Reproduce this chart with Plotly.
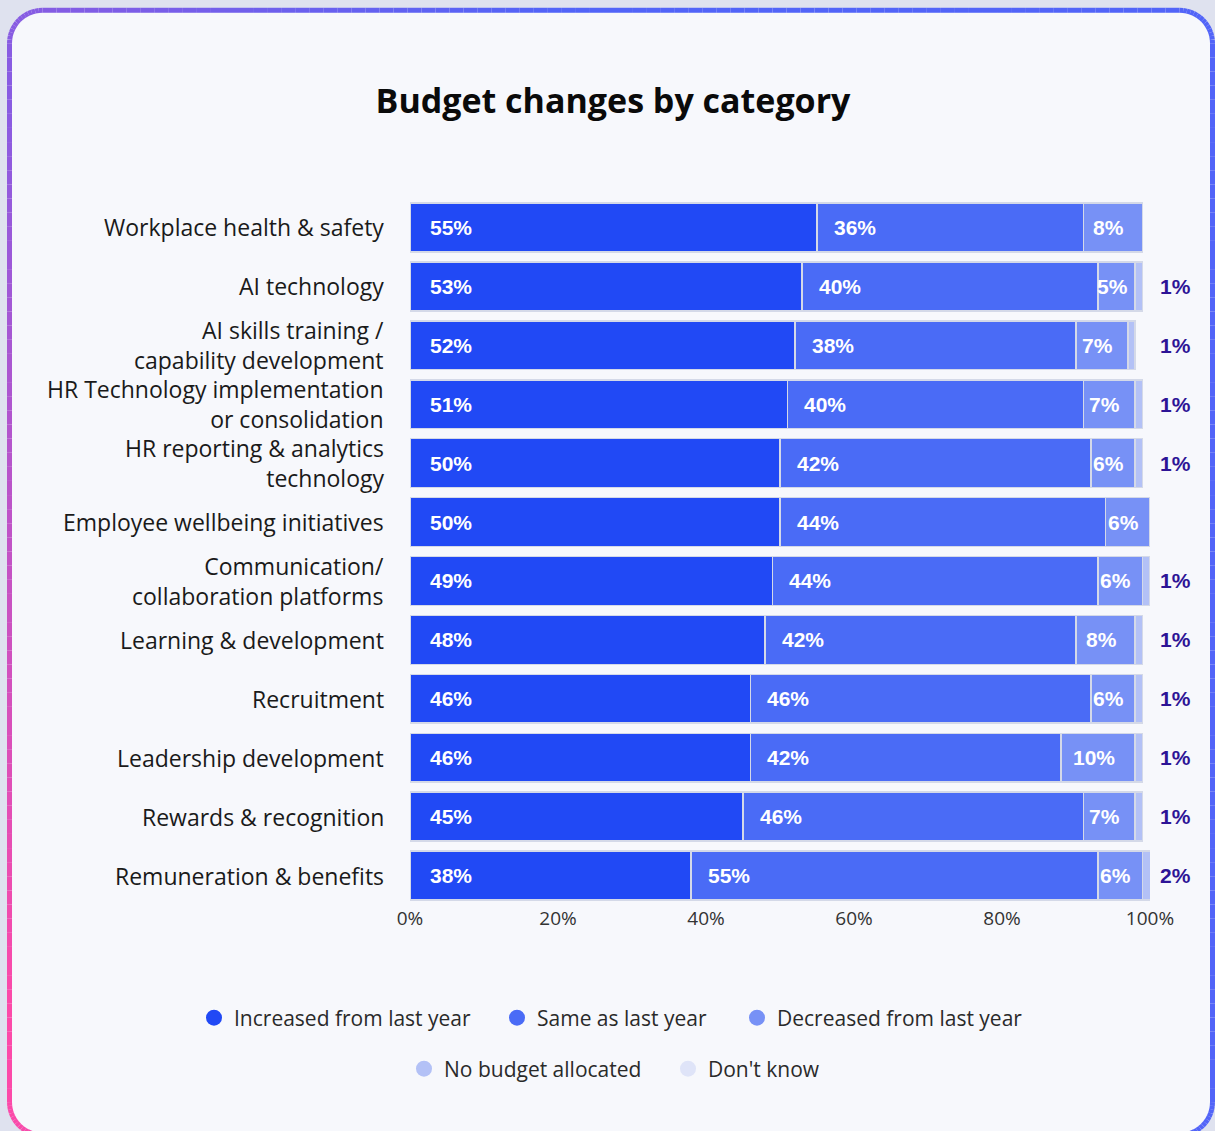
import plotly.graph_objects as go

# ---- data -------------------------------------------------------------
categories = [
    "Workplace health & safety",
    "AI technology",
    "AI skills training /<br>capability development",
    "HR Technology implementation<br>or consolidation",
    "HR reporting & analytics<br>technology",
    "Employee wellbeing initiatives",
    "Communication/<br>collaboration platforms",
    "Learning & development",
    "Recruitment",
    "Leadership development",
    "Rewards & recognition",
    "Remuneration & benefits",
]
increased = [55, 53, 52, 51, 50, 50, 49, 48, 46, 46, 45, 38]
same = [36, 40, 38, 40, 42, 44, 44, 42, 46, 42, 46, 55]
decreased = [8, 5, 7, 7, 6, 6, 6, 8, 6, 10, 7, 6]
no_budget = [0, 1, 1, 1, 1, 0, 1, 1, 1, 1, 1, 2]
dont_know = [0, 0, 0, 0, 0, 0, 0, 0, 0, 0, 0, 0]

series_names = ["Increased from last year", "Same as last year",
                "Decreased from last year", "No budget allocated", "Don't know"]
series_colors = ["#2149f5", "#4a6bf6", "#7791f6", "#b3c1f6", "#dfe4f8"]
tick_vals = [0, 20, 40, 60, 80, 100]
tick_text = ["0%", "20%", "40%", "60%", "80%", "100%"]

# ---- geometry ---------------------------------------------------------
W, H = 1215, 1131
ML, MR, MT, MB = 410, 65, 197.5, 225.5
PW, PH = W - ML - MR, H - MT - MB

def xp(px):
    return (px - ML) / PW

def yp(py):
    return (H - MB - py) / PH

FONT = "Open Sans"
LABEL_FONT = "Liberation Sans"

fig = go.Figure()

series_values = [increased, same, decreased, no_budget, dont_know]
for name, vals, col in zip(series_names, series_values, series_colors):
    fig.add_trace(go.Bar(
        y=categories, x=vals, orientation="h", name=name,
        marker=dict(color=col, line=dict(color="#d4d9e8", width=1.5)),
        width=0.83, showlegend=False, hoverinfo="x+name",
    ))

# legend: one small legend per entry so the two rows can be centred freely
legend_ids = ["legend", "legend2", "legend3", "legend4", "legend5"]
legend_pos = [(194, 1018), (497, 1018), (737, 1018), (404, 1069), (668, 1069)]
for name, col, lid in zip(series_names, series_colors, legend_ids):
    fig.add_trace(go.Scatter(
        x=[None], y=[None], mode="markers", name=name,
        marker=dict(color=col, size=19, symbol="circle"), legend=lid,
    ))

annotations = []

# ---- category labels ----------------------------------------------------
for cat in categories:
    annotations.append(dict(
        x=0, y=cat, xref="paper", yref="y", text=cat, showarrow=False,
        xanchor="right", align="right", xshift=-24,
        font=dict(family=FONT, size=23, color="#1a1a1a")))

# ---- value labels -----------------------------------------------------
white = dict(family=LABEL_FONT, size=21, color="white", weight="bold")
for cat, a, b, c, d in zip(categories, increased, same, decreased, no_budget):
    annotations.append(dict(x=2.4, y=cat, xref="x", yref="y", text=f"{a}%",
                            showarrow=False, xanchor="left", font=white))
    annotations.append(dict(x=a + 2.0, y=cat, xref="x", yref="y", text=f"{b}%",
                            showarrow=False, xanchor="left", font=white))
    annotations.append(dict(x=a + b + c / 2 - 0.6, y=cat, xref="x", yref="y", text=f"{c}%",
                            showarrow=False, xanchor="center", font=white))
    if d:
        annotations.append(dict(x=100, y=cat, xref="x", yref="y", text=f"{d}%",
                                showarrow=False, xanchor="left", xshift=8,
                                font=dict(family=LABEL_FONT, size=21,
                                          color="#2d1496", weight="bold")))

# ---- card with gradient border ---------------------------------------
shapes = []
cx0, cy0, cx1, cy1, rad = 9.5, 9.5, 1212.5, 1136, 33

def card_path():
    import math
    pts = []
    def arc(cx, cy, a0, a1, n=14):
        for k in range(n + 1):
            t = math.radians(a0 + (a1 - a0) * k / n)
            pts.append((cx + rad * math.cos(t), cy + rad * math.sin(t)))
    def line(p0, p1, step=14):
        n = max(1, int(math.hypot(p1[0] - p0[0], p1[1] - p0[1]) / step))
        for k in range(1, n):
            pts.append((p0[0] + (p1[0] - p0[0]) * k / n, p0[1] + (p1[1] - p0[1]) * k / n))
    arc(cx0 + rad, cy0 + rad, 180, 270)
    line((cx0 + rad, cy0), (cx1 - rad, cy0))
    arc(cx1 - rad, cy0 + rad, 270, 360)
    line((cx1, cy0 + rad), (cx1, cy1 - rad))
    arc(cx1 - rad, cy1 - rad, 0, 90)
    line((cx1 - rad, cy1), (cx0 + rad, cy1))
    arc(cx0 + rad, cy1 - rad, 90, 180)
    line((cx0, cy1 - rad), (cx0, cy0 + rad))
    pts.append(pts[0])
    return pts

pts = card_path()
path = "M " + " L ".join(f"{xp(x):.5f},{yp(y):.5f}" for x, y in pts) + " Z"
shapes.append(dict(type="path", xref="paper", yref="paper", path=path,
                   fillcolor="#f7f8fc", line=dict(width=0), layer="below"))

purple, pink, blue = (138, 92, 226), (255, 74, 168), (82, 100, 248)

def mix(c1, c2, t):
    t = max(0.0, min(1.0, t))
    return tuple(c1[i] + (c2[i] - c1[i]) * t for i in range(3))

def border_color(x, y):
    v = (y - 100) / 900
    left = mix(purple, pink, v)
    c = mix(left, blue, x / W * 2.2)
    return "rgb(%d,%d,%d)" % c

for (x0, y0), (x1, y1) in zip(pts[:-1], pts[1:]):
    shapes.append(dict(type="line", xref="paper", yref="paper",
                       x0=xp(x0), y0=yp(y0), x1=xp(x1), y1=yp(y1),
                       line=dict(color=border_color((x0 + x1) / 2, (y0 + y1) / 2), width=5),
                       layer="below"))

legend_font = dict(family=FONT, size=21, color="#2a2a2a")
legend_layout = {}
for lid, (lx, ly) in zip(legend_ids, legend_pos):
    legend_layout[lid] = dict(
        orientation="h", xref="container", x=lx / W, xanchor="left",
        yref="container", y=1 - ly / H, yanchor="middle",
        bgcolor="rgba(0,0,0,0)", font=legend_font, itemsizing="trace")

fig.update_layout(
    width=W, height=H,
    margin=dict(l=ML, r=MR, t=MT, b=MB),
    paper_bgcolor="#dfe2ef", plot_bgcolor="rgba(0,0,0,0)",
    barmode="stack", bargap=0.17,
    title=dict(text="Budget changes by category", x=613 / W, xanchor="center",
               y=1 - 101 / H, yanchor="middle", xref="container", yref="container",
               font=dict(family=FONT, size=34, color="#0a0a0a", weight="bold")),
    xaxis=dict(range=[0, 100], tickvals=tick_vals, ticktext=tick_text,
               showgrid=False, zeroline=False, showline=False, fixedrange=True,
               tickfont=dict(family=FONT, size=19, color="#333333")),
    yaxis=dict(categoryorder="array", categoryarray=categories, autorange="reversed",
               showgrid=False, zeroline=False, showline=False, showticklabels=False),
    annotations=annotations,
    shapes=shapes,
    **legend_layout,
)

fig.write_html("out.html")
